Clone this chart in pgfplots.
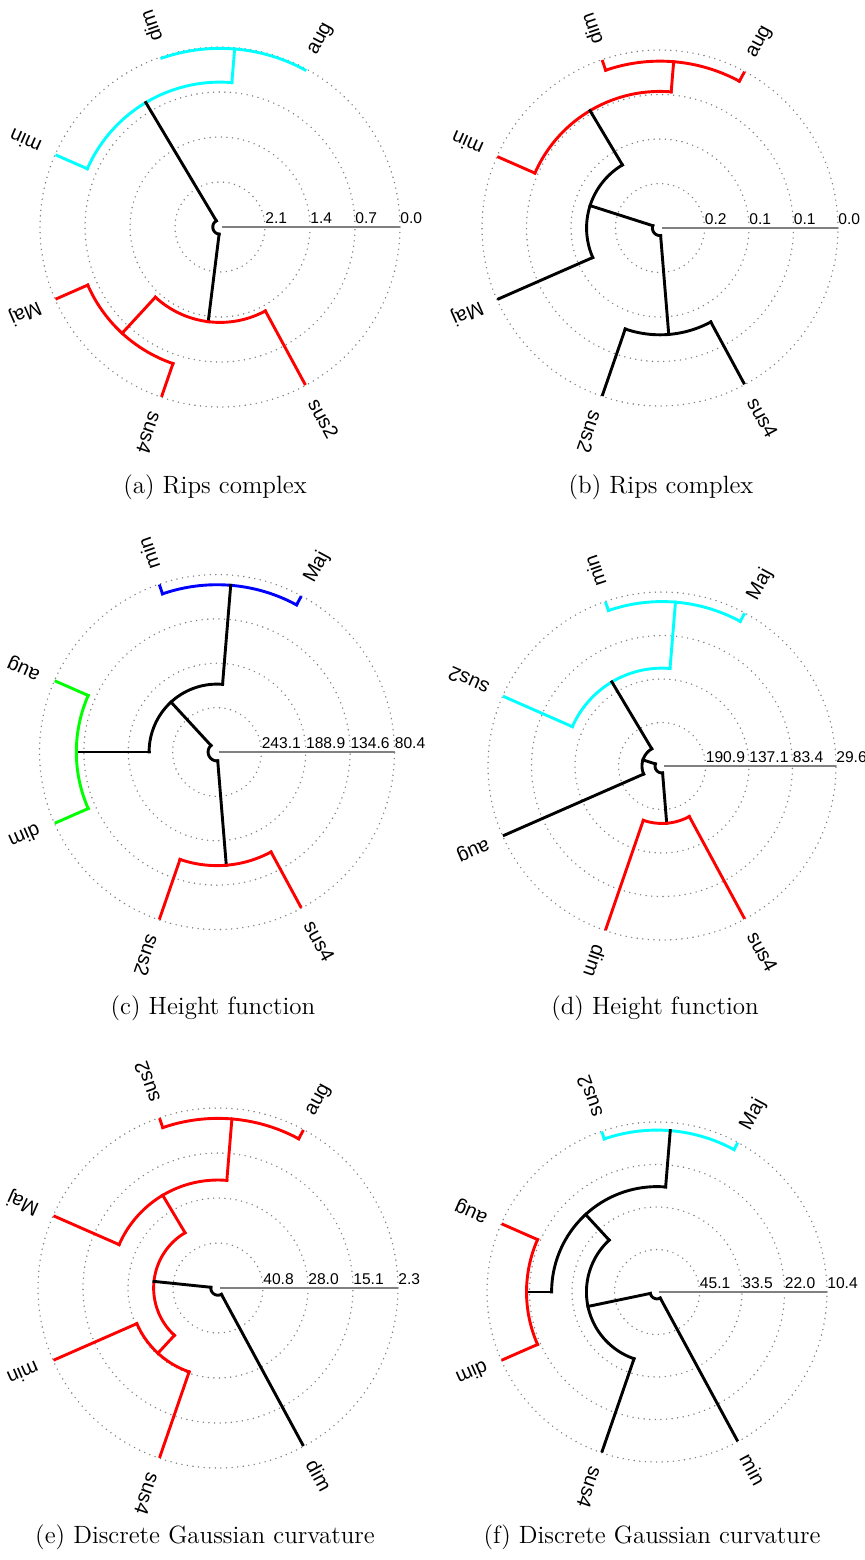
\documentclass[border=0pt]{standalone}
\usepackage{fontspec}
\usepackage{pgfplots}
\usepgfplotslibrary{polar}
\pgfplotsset{compat=1.18}
\newfontfamily\helv{Liberation Sans}
\definecolor{cyn}{RGB}{0,255,255}
\definecolor{rd}{RGB}{255,0,0}
\definecolor{grn}{RGB}{0,255,0}
\definecolor{blu}{RGB}{0,0,255}

% radii: 4 = leaf level (height 0), 0 = centre
\pgfplotsset{dendro/.style={
    scale only axis, xmin=0, xmax=360, ymin=0, ymax=4,
    xtick=\empty, ytick={1,2,3,4}, yticklabels={,,,},
    ymajorgrids, xmajorgrids=false,
    axis line style={draw=none}, major tick style={draw=none},
    grid style={gray, line width=0.8pt, line cap=round, dash pattern=on 0pt off 2.8pt},
    clip=false, anchor=center, no markers,
    every axis plot/.append style={line width=1.45pt, line cap=rect}}}
\tikzset{
  tl/.style={font=\helv\fontsize{7.8}{8}\selectfont, anchor=base west, inner sep=0pt, yshift=2pt},
  leaf/.style={font=\helv\fontsize{10}{11}\selectfont, anchor=west, inner sep=0pt},
  capt/.style={font=\fontsize{12.5}{15}\selectfont}}
\newcommand\arcp[4]{\addplot[#1,domain=#2:#3,samples=60] {#4};}
\newcommand\radp[4]{\addplot[#1] coordinates {(#2,#3) (#2,#4)};}
\newcommand\leaf[2]{\node[leaf,rotate=#1] at (axis cs:#1,4.36) {#2};}
\newcommand\tlab[2]{\node[tl] at (axis cs:0,#1) {#2};}
\newcommand\base{\addplot[gray, line width=0.75pt, line cap=butt] coordinates {(0,0.04) (0,4)};}

\begin{document}
\begin{tikzpicture}
\useasboundingbox (0,0) rectangle (432.5pt,-780pt);

% (a)
\begin{polaraxis}[dendro, width=180pt, height=180pt, at={(110pt,-113.5pt)}]
\base
\arcp{cyn}{61.6}{109}{3.97}
\radp{cyn}{85.3}{3.97}{3.22}
\arcp{cyn}{85.3}{156.3}{3.22}
\radp{cyn}{156.3}{3.22}{3.96}
\radp{black}{120.8}{3.22}{0.16}
\arcp{black}{120.8}{262.9}{0.16}
\radp{black}{262.9}{0.16}{2.12}
\arcp{rd}{227.35}{298.4}{2.12}
\radp{rd}{298.4}{2.12}{3.96}
\radp{rd}{227.35}{2.12}{3.21}
\arcp{rd}{203.7}{251}{3.21}
\radp{rd}{203.7}{3.21}{3.96}
\radp{rd}{251}{3.21}{3.96}
\tlab{1}{2.1}\tlab{2}{1.4}\tlab{3}{0.7}\tlab{4}{0.0}
\leaf{61.6}{aug}\leaf{109}{dim}\leaf{156.3}{min}\leaf{203.7}{Maj}\leaf{251}{sus4}\leaf{298.4}{sus2}
\end{polaraxis}
\node[capt] at (107.5pt,-243.5pt) {(a) Rips complex};

% (b)
\begin{polaraxis}[dendro, width=178pt, height=178pt, at={(330pt,-114pt)}]
\base
\arcp{rd}{61.6}{109}{3.75}
\radp{rd}{61.6}{3.75}{3.96}
\radp{rd}{109}{3.75}{3.96}
\radp{rd}{85.3}{3.75}{3.07}
\arcp{rd}{85.3}{156.3}{3.07}
\radp{rd}{156.3}{3.07}{3.96}
\radp{black}{120.8}{3.07}{1.65}
\arcp{black}{120.8}{203.7}{1.65}
\radp{black}{203.7}{1.65}{3.96}
\radp{black}{162.25}{1.65}{0.17}
\arcp{black}{162.25}{274.7}{0.17}
\radp{black}{274.7}{0.17}{2.40}
\arcp{black}{251}{298.4}{2.40}
\radp{black}{251}{2.40}{3.96}
\radp{black}{298.4}{2.40}{3.96}
\tlab{1}{0.2}\tlab{2}{0.1}\tlab{3}{0.1}\tlab{4}{0.0}
\leaf{61.6}{aug}\leaf{109}{dim}\leaf{156.3}{min}\leaf{203.7}{Maj}\leaf{251}{sus2}\leaf{298.4}{sus4}
\end{polaraxis}
\node[capt] at (330.5pt,-243.5pt) {(b) Rips complex};

% (c)
\begin{polaraxis}[dendro, width=177.5pt, height=177.5pt, at={(108.5pt,-376pt)}]
\base
\arcp{blu}{61.6}{109}{3.77}
\radp{blu}{61.6}{3.77}{3.96}
\radp{blu}{109}{3.77}{3.96}
\radp{black}{85.3}{3.77}{1.53}
\arcp{black}{85.3}{180}{1.53}
\radp{black}{180}{1.53}{3.17}
\radp{black}{132.65}{1.53}{0.2}
\arcp{black}{132.65}{274.7}{0.2}
\radp{black}{274.7}{0.2}{2.56}
\arcp{grn}{156.3}{203.7}{3.17}
\radp{grn}{156.3}{3.17}{3.96}
\radp{grn}{203.7}{3.17}{3.96}
\arcp{rd}{251}{298.4}{2.56}
\radp{rd}{251}{2.56}{3.96}
\radp{rd}{298.4}{2.56}{3.96}
\tlab{1}{243.1}\tlab{2}{188.9}\tlab{3}{134.6}\tlab{4}{80.4}
\leaf{61.6}{Maj}\leaf{109}{min}\leaf{156.3}{aug}\leaf{203.7}{dim}\leaf{251}{sus2}\leaf{298.4}{sus4}
\end{polaraxis}
\node[capt] at (106.5pt,-504pt) {(c) Height function};

% (d)
\begin{polaraxis}[dendro, width=174pt, height=174pt, at={(331pt,-383pt)}]
\base
\arcp{cyn}{61.6}{109}{3.78}
\radp{cyn}{61.6}{3.78}{3.96}
\radp{cyn}{109}{3.78}{3.96}
\radp{cyn}{85.3}{3.78}{2.25}
\arcp{cyn}{85.3}{156.3}{2.25}
\radp{cyn}{156.3}{2.25}{3.96}
\radp{black}{120.8}{2.25}{0.46}
\arcp{black}{120.8}{203.7}{0.46}
\radp{black}{203.7}{0.46}{3.96}
\radp{black}{162.25}{0.46}{0.16}
\arcp{black}{162.25}{274.7}{0.16}
\radp{black}{274.7}{0.16}{1.32}
\arcp{rd}{251}{298.4}{1.32}
\radp{rd}{251}{1.32}{3.96}
\radp{rd}{298.4}{1.32}{3.96}
\tlab{1}{190.9}\tlab{2}{137.1}\tlab{3}{83.4}\tlab{4}{29.6}
\leaf{61.6}{Maj}\leaf{109}{min}\leaf{156.3}{sus2}\leaf{203.7}{aug}\leaf{251}{dim}\leaf{298.4}{sus4}
\end{polaraxis}
\node[capt] at (327.5pt,-504pt) {(d) Height function};

% (e)
\begin{polaraxis}[dendro, width=180pt, height=180pt, at={(109pt,-644pt)}]
\base
\arcp{rd}{61.6}{109}{3.77}
\radp{rd}{61.6}{3.77}{3.96}
\radp{rd}{109}{3.77}{3.96}
\radp{rd}{85.3}{3.77}{2.40}
\arcp{rd}{85.3}{156.3}{2.40}
\radp{rd}{156.3}{2.40}{3.96}
\radp{rd}{120.8}{2.40}{1.43}
\arcp{rd}{120.8}{227.35}{1.43}
\radp{rd}{227.35}{1.43}{1.97}
\arcp{rd}{203.7}{251}{1.97}
\radp{rd}{203.7}{1.97}{3.96}
\radp{rd}{251}{1.97}{3.96}
\radp{black}{174.1}{1.43}{0.16}
\arcp{black}{174.1}{298.4}{0.16}
\radp{black}{298.4}{0.16}{3.96}
\tlab{1}{40.8}\tlab{2}{28.0}\tlab{3}{15.1}\tlab{4}{2.3}
\leaf{61.6}{aug}\leaf{109}{sus2}\leaf{156.3}{Maj}\leaf{203.7}{min}\leaf{251}{sus4}\leaf{298.4}{dim}
\end{polaraxis}
\node[capt] at (102.5pt,-768.5pt) {(e) Discrete Gaussian curvature};

% (f)
\begin{polaraxis}[dendro, width=170pt, height=170pt, at={(328.5pt,-646pt)}]
\base
\arcp{cyn}{61.6}{109}{3.81}
\radp{cyn}{61.6}{3.81}{3.96}
\radp{cyn}{109}{3.81}{3.96}
\radp{black}{85.3}{3.81}{2.48}
\arcp{black}{85.3}{180}{2.48}
\radp{black}{180}{2.48}{3.07}
\radp{black}{132.65}{2.48}{1.66}
\arcp{black}{132.65}{251}{1.66}
\radp{black}{251}{1.66}{3.96}
\radp{black}{191.8}{1.66}{0.16}
\arcp{black}{191.8}{298.4}{0.16}
\radp{black}{298.4}{0.16}{3.96}
\arcp{rd}{156.3}{203.7}{3.07}
\radp{rd}{156.3}{3.07}{3.96}
\radp{rd}{203.7}{3.07}{3.96}
\tlab{1}{45.1}\tlab{2}{33.5}\tlab{3}{22.0}\tlab{4}{10.4}
\leaf{61.6}{Maj}\leaf{109}{sus2}\leaf{156.3}{aug}\leaf{203.7}{dim}\leaf{251}{sus4}\leaf{298.4}{min}
\end{polaraxis}
\node[capt] at (326pt,-768.5pt) {(f) Discrete Gaussian curvature};
\end{tikzpicture}
\end{document}
